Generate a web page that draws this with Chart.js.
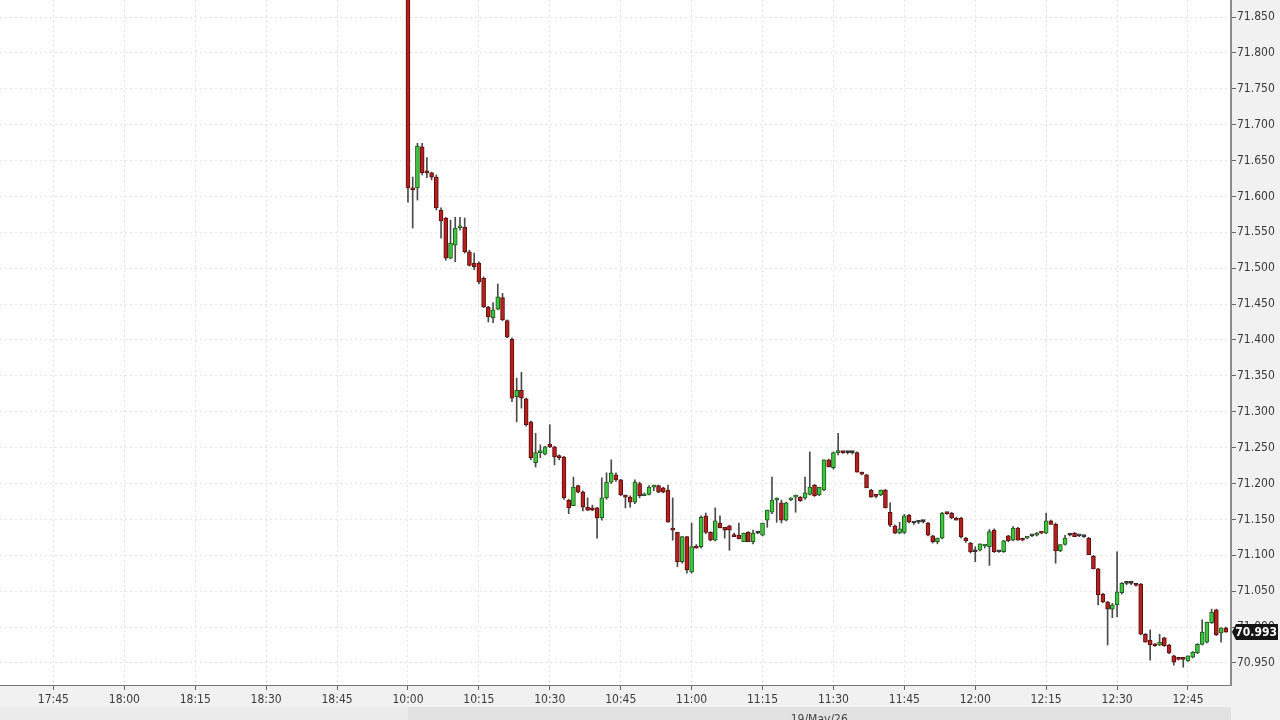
<!DOCTYPE html>
<html>
<head>
<meta charset="utf-8">
<script src="https://cdn.jsdelivr.net/npm/chart.js@4.4.1/dist/chart.umd.min.js"></script>
<style>
  html, body { margin: 0; padding: 0; background: #f1f1f1; }
  #wrap { width: 1280px; height: 720px; }
</style>
</head>
<body>
<div id="wrap"><canvas id="chart" width="1280" height="720"></canvas></div>
<script>
// one-minute candles, index 0 = 10:00
const opens = [
  71.950, 71.612, 71.612, 71.669, 71.634, 71.633, 71.627, 71.581, 71.570, 71.514,
  71.532, 71.556, 71.557, 71.523, 71.507, 71.507, 71.486, 71.446, 71.431, 71.443,
  71.459, 71.427, 71.401, 71.321, 71.330, 71.318, 71.286, 71.229, 71.243, 71.241,
  71.255, 71.251, 71.237, 71.237, 71.177, 71.169, 71.197, 71.188, 71.167, 71.166,
  71.166, 71.152, 71.180, 71.202, 71.212, 71.205, 71.184, 71.181, 71.174, 71.200,
  71.183, 71.185, 71.195, 71.197, 71.194, 71.191, 71.138, 71.132, 71.091, 71.126,
  71.077, 71.112, 71.112, 71.155, 71.132, 71.121, 71.145, 71.139, 71.141, 71.128,
  71.128, 71.119, 71.132, 71.119, 71.131, 71.128, 71.149, 71.160, 71.177, 71.173,
  71.149, 71.177, 71.181, 71.181, 71.180, 71.185, 71.198, 71.184, 71.191, 71.233,
  71.222, 71.243, 71.244, 71.243, 71.243, 71.243, 71.215, 71.212, 71.191, 71.183,
  71.184, 71.191, 71.160, 71.141, 71.131, 71.132, 71.156, 71.145, 71.146, 71.147,
  71.145, 71.127, 71.119, 71.124, 71.159, 71.159, 71.152, 71.152, 71.124, 71.117,
  71.105, 71.107, 71.113, 71.112, 71.135, 71.105, 71.105, 71.127, 71.121, 71.138,
  71.123, 71.124, 71.127, 71.128, 71.132, 71.131, 71.148, 71.143, 71.106, 71.115,
  71.128, 71.131, 71.127, 71.126, 71.124, 71.099, 71.081, 71.046, 71.035, 71.025,
  71.031, 71.048, 71.061, 71.061, 71.060, 71.060, 70.990, 70.982, 70.976, 70.975,
  70.985, 70.975, 70.960, 70.956, 70.956, 70.953, 70.958, 70.964, 70.976, 70.979,
  71.006, 71.024, 70.992, 70.999
];
const highs = [
  71.950, 71.627, 71.674, 71.674, 71.654, 71.634, 71.630, 71.584, 71.571, 71.567,
  71.571, 71.571, 71.570, 71.525, 71.521, 71.509, 71.488, 71.447, 71.452, 71.478,
  71.465, 71.428, 71.403, 71.347, 71.355, 71.319, 71.287, 71.270, 71.254, 71.252,
  71.282, 71.252, 71.240, 71.238, 71.178, 71.209, 71.198, 71.190, 71.180, 71.170,
  71.167, 71.208, 71.215, 71.233, 71.215, 71.206, 71.184, 71.183, 71.205, 71.202,
  71.187, 71.197, 71.198, 71.198, 71.195, 71.198, 71.180, 71.132, 71.126, 71.126,
  71.145, 71.115, 71.155, 71.159, 71.133, 71.166, 71.155, 71.139, 71.142, 71.131,
  71.145, 71.131, 71.133, 71.135, 71.133, 71.145, 71.163, 71.209, 71.180, 71.177,
  71.174, 71.180, 71.184, 71.182, 71.209, 71.244, 71.199, 71.195, 71.233, 71.234,
  71.244, 71.270, 71.245, 71.245, 71.245, 71.244, 71.216, 71.213, 71.192, 71.184,
  71.191, 71.192, 71.173, 71.142, 71.146, 71.157, 71.157, 71.146, 71.148, 71.149,
  71.146, 71.128, 71.124, 71.160, 71.160, 71.160, 71.153, 71.153, 71.125, 71.118,
  71.112, 71.116, 71.115, 71.136, 71.137, 71.106, 71.121, 71.128, 71.140, 71.139,
  71.124, 71.126, 71.128, 71.132, 71.133, 71.159, 71.149, 71.145, 71.115, 71.128,
  71.129, 71.132, 71.128, 71.127, 71.125, 71.100, 71.082, 71.047, 71.036, 71.033,
  71.105, 71.062, 71.062, 71.062, 71.061, 71.061, 70.991, 70.996, 70.977, 70.990,
  70.986, 70.976, 70.961, 70.958, 70.957, 70.960, 70.966, 70.977, 71.010, 71.007,
  71.025, 71.025, 70.999, 71.000
];
const lows = [
  71.592, 71.556, 71.595, 71.630, 71.626, 71.623, 71.581, 71.542, 71.511, 71.513,
  71.509, 71.553, 71.521, 71.503, 71.498, 71.478, 71.445, 71.425, 71.424, 71.442,
  71.427, 71.403, 71.314, 71.286, 71.305, 71.280, 71.233, 71.223, 71.236, 71.240,
  71.250, 71.226, 71.233, 71.178, 71.158, 71.169, 71.187, 71.162, 71.162, 71.162,
  71.124, 71.149, 71.178, 71.200, 71.203, 71.183, 71.166, 71.167, 71.172, 71.180,
  71.183, 71.184, 71.190, 71.187, 71.187, 71.146, 71.121, 71.084, 71.089, 71.075,
  71.075, 71.110, 71.110, 71.130, 71.120, 71.120, 71.138, 71.124, 71.107, 71.126,
  71.123, 71.119, 71.119, 71.116, 71.130, 71.127, 71.139, 71.158, 71.146, 71.145,
  71.148, 71.176, 71.160, 71.175, 71.178, 71.184, 71.182, 71.183, 71.190, 71.223,
  71.220, 71.240, 71.242, 71.241, 71.241, 71.216, 71.212, 71.194, 71.181, 71.180,
  71.183, 71.166, 71.140, 71.130, 71.130, 71.130, 71.145, 71.143, 71.144, 71.145,
  71.127, 71.117, 71.116, 71.123, 71.157, 71.151, 71.149, 71.124, 71.118, 71.103,
  71.091, 71.106, 71.110, 71.086, 71.104, 71.104, 71.104, 71.119, 71.120, 71.121,
  71.120, 71.123, 71.126, 71.127, 71.130, 71.130, 71.143, 71.089, 71.105, 71.114,
  71.127, 71.126, 71.126, 71.125, 71.101, 71.081, 71.031, 71.034, 70.975, 71.013,
  71.014, 71.046, 71.059, 71.059, 71.057, 70.989, 70.979, 70.954, 70.973, 70.974,
  70.973, 70.963, 70.947, 70.954, 70.944, 70.952, 70.957, 70.963, 70.975, 70.978,
  71.005, 70.988, 70.979, 70.993
];
const closes = [
  71.612, 71.609, 71.670, 71.633, 71.633, 71.627, 71.584, 71.566, 71.514, 71.535,
  71.556, 71.559, 71.523, 71.504, 71.502, 71.481, 71.446, 71.432, 71.442, 71.460,
  71.428, 71.404, 71.319, 71.330, 71.319, 71.282, 71.236, 71.243, 71.244, 71.251,
  71.251, 71.237, 71.236, 71.180, 71.166, 71.195, 71.188, 71.167, 71.163, 71.163,
  71.152, 71.180, 71.202, 71.215, 71.205, 71.184, 71.181, 71.174, 71.202, 71.183,
  71.185, 71.195, 71.197, 71.188, 71.188, 71.146, 71.135, 71.091, 71.126, 71.080,
  71.112, 71.110, 71.153, 71.132, 71.121, 71.148, 71.138, 71.135, 71.135, 71.126,
  71.123, 71.131, 71.119, 71.131, 71.131, 71.145, 71.163, 71.177, 71.178, 71.149,
  71.173, 71.180, 71.183, 71.176, 71.187, 71.195, 71.183, 71.195, 71.233, 71.223,
  71.243, 71.245, 71.243, 71.243, 71.243, 71.216, 71.213, 71.194, 71.181, 71.182,
  71.191, 71.166, 71.142, 71.131, 71.137, 71.155, 71.146, 71.145, 71.146, 71.147,
  71.128, 71.119, 71.124, 71.159, 71.158, 71.152, 71.149, 71.126, 71.120, 71.105,
  71.105, 71.116, 71.114, 71.133, 71.105, 71.105, 71.120, 71.120, 71.138, 71.121,
  71.121, 71.125, 71.127, 71.131, 71.131, 71.148, 71.143, 71.106, 71.115, 71.124,
  71.128, 71.126, 71.127, 71.126, 71.101, 71.081, 71.045, 71.035, 71.025, 71.031,
  71.049, 71.061, 71.061, 71.061, 71.058, 70.990, 70.979, 70.975, 70.974, 70.979,
  70.974, 70.964, 70.951, 70.955, 70.955, 70.960, 70.965, 70.976, 70.993, 71.007,
  71.021, 70.989, 70.999, 70.993
];

// time axis, minutes relative to 10:00
const xTickMinutes = [-75, -60, -45, -30, -15, 0, 15, 30, 45, 60, 75, 90, 105, 120, 135, 150, 165];
const xTickLabels = ['17:45', '18:00', '18:15', '18:30', '18:45', '10:00', '10:15', '10:30', '10:45',
  '11:00', '11:15', '11:30', '11:45', '12:00', '12:15', '12:30', '12:45'];
const yTickValues = [70.95, 71.00, 71.05, 71.10, 71.15, 71.20, 71.25, 71.30, 71.35, 71.40,
  71.45, 71.50, 71.55, 71.60, 71.65, 71.70, 71.75, 71.80, 71.85];
const sessionDate = '19/May/26';

const FONT = '"DejaVu Sans Condensed", "DejaVu Sans", sans-serif';
Chart.defaults.font.family = FONT;
Chart.defaults.font.size = 12;

function candleColor(i, up, down, flat) {
  if (closes[i] > opens[i]) return up;
  if (closes[i] < opens[i]) return down;
  return flat;
}

function noPadding(s) {
  s.paddingTop = 0;
  s.paddingBottom = 0;
  s.paddingLeft = 0;
  s.paddingRight = 0;
}

const backdrop = {
  id: 'backdrop',
  beforeDraw(chart) {
    const { ctx, chartArea: a, scales: { x } } = chart;
    ctx.save();
    ctx.fillStyle = '#f1f1f1';
    ctx.fillRect(0, 0, chart.width, chart.height);
    ctx.fillStyle = '#ffffff';
    ctx.fillRect(a.left, a.top, a.right - a.left, a.bottom - a.top);
    // session strip under the time axis
    const split = x.getPixelForValue(0);
    const top = a.bottom + 22;
    ctx.fillStyle = '#ebebeb';
    ctx.fillRect(0, top, split, chart.height - top);
    ctx.fillStyle = '#e2e2e2';
    ctx.fillRect(split, top, a.right - split, chart.height - top);
    ctx.fillStyle = '#444';
    ctx.font = '12px ' + FONT;
    ctx.textAlign = 'center';
    ctx.textBaseline = 'alphabetic';
    ctx.fillText(sessionDate, x.getPixelForValue(87), top + 16);
    ctx.restore();
  },
  afterDraw(chart) {
    const { ctx, chartArea: a, scales: { y } } = chart;
    const last = closes[closes.length - 1];
    const py = y.getPixelForValue(last);
    ctx.save();
    ctx.fillStyle = '#151515';
    ctx.beginPath();
    ctx.moveTo(a.right + 1, py);
    ctx.lineTo(a.right + 5, py - 8);
    ctx.lineTo(chart.width - 2, py - 8);
    ctx.lineTo(chart.width - 2, py + 8);
    ctx.lineTo(a.right + 5, py + 8);
    ctx.closePath();
    ctx.fill();
    ctx.fillStyle = '#ffffff';
    ctx.font = 'bold 12px ' + FONT;
    ctx.textAlign = 'right';
    ctx.textBaseline = 'middle';
    ctx.fillText(last.toFixed(3), chart.width - 3, py + 1);
    ctx.restore();
  }
};

const ctx = document.getElementById('chart').getContext('2d');
new Chart(ctx, {
  type: 'bar',
  data: {
    datasets: [
      {
        label: 'body',
        order: 1,
        data: closes.map((c, i) => ({ x: i, y: [opens[i], c] })),
        backgroundColor: closes.map((c, i) => candleColor(i, '#3cc83c', '#b5201d', '#333333')),
        borderColor: closes.map((c, i) => candleColor(i, '#1f5a1f', '#5a1010', '#333333')),
        borderWidth: 1,
        borderSkipped: false,
        barThickness: 4,
        minBarLength: 2,
        grouped: false
      },
      {
        label: 'wick',
        order: 2,
        data: highs.map((h, i) => ({ x: i, y: [lows[i], h] })),
        backgroundColor: '#4a4a4a',
        borderWidth: 0,
        barThickness: 1,
        grouped: false
      }
    ]
  },
  options: {
    responsive: false,
    maintainAspectRatio: false,
    animation: false,
    events: [],
    layout: { padding: 0 },
    plugins: { legend: { display: false }, tooltip: { enabled: false } },
    scales: {
      x: {
        type: 'linear',
        offset: false,
        min: -86.3,
        max: 174.1,
        afterBuildTicks: s => { s.ticks = xTickMinutes.map(v => ({ value: v })); },
        afterFit: s => { s.height = 35; noPadding(s); },
        ticks: {
          autoSkip: false,
          maxRotation: 0,
          padding: 3,
          color: '#3a3a3a',
          font: { size: 12 },
          callback: v => xTickLabels[xTickMinutes.indexOf(v)]
        },
        grid: {
          offset: false,
          color: '#e4e4e4',
          tickColor: '#666',
          tickLength: 5,
          tickBorderDash: []
        },
        border: { color: '#777', width: 1, dash: [2, 3] }
      },
      y: {
        type: 'linear',
        position: 'right',
        min: 70.9193,
        max: 71.8737,
        afterBuildTicks: s => { s.ticks = yTickValues.map(v => ({ value: v })); },
        afterFit: s => { s.width = 49; noPadding(s); },
        ticks: {
          padding: 1,
          color: '#3a3a3a',
          font: { size: 12 },
          callback: v => v.toFixed(3)
        },
        grid: {
          color: '#e4e4e4',
          tickColor: '#666',
          tickLength: 5,
          tickBorderDash: []
        },
        border: { color: '#8c8c8c', width: 2, dash: [2, 3] }
      }
    }
  },
  plugins: [backdrop]
});
</script>
</body>
</html>
